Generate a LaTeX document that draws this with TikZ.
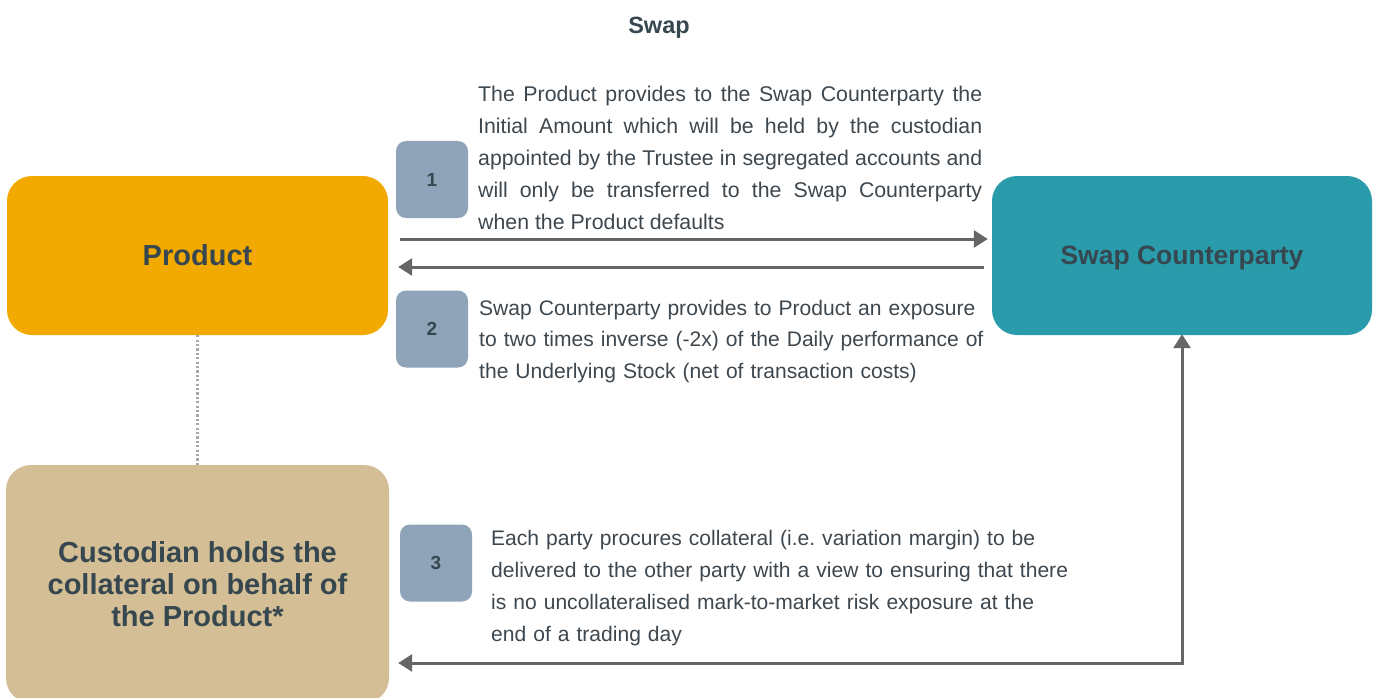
\documentclass[tikz,border=0pt]{standalone}
\usepackage{fontspec}
\setmainfont{Liberation Sans}
\usetikzlibrary{arrows.meta}
\definecolor{prodc}{HTML}{F2AA00}
\definecolor{swapc}{HTML}{2A9BAA}
\definecolor{custc}{HTML}{D3BE95}
\definecolor{badgec}{HTML}{8FA4B9}
\definecolor{headc}{HTML}{36474F}
\definecolor{bodyc}{HTML}{3E474E}
\definecolor{arrc}{HTML}{666666}
\definecolor{dotc}{HTML}{A8A8A8}
\frenchspacing
\begin{document}
\begin{tikzpicture}[x=1pt,y=-1pt,
 bigbox/.style={rounded corners=25pt, inner sep=0pt, font=\bfseries\fontsize{29}{32}\selectfont, text=headc, align=center},
 badge/.style={fill=badgec, rounded corners=10pt, minimum width=72pt, minimum height=77pt, inner sep=0pt, font=\bfseries\fontsize{19}{22}\selectfont, text=headc},
 desc/.style={inner sep=0pt, anchor=base west, font=\fontsize{21.3}{31.8}\selectfont, text=bodyc},
 arr/.style={draw=arrc, line width=3pt, -{Triangle[length=14pt,width=17pt]}},
 dblarr/.style={draw=arrc, line width=3pt, {Triangle[length=14pt,width=17pt]}-{Triangle[length=14pt,width=17pt]}},
 dots/.style={draw=dotc, line width=2.2pt, dash pattern=on 2.2pt off 2.2pt}
]
\useasboundingbox (0,0) rectangle (1376,698);
\node[font=\bfseries\fontsize{23.5}{26}\selectfont, text=headc, anchor=base, inner sep=0pt] (title) at (659,33.5) {Swap};
\node[bigbox, fill=prodc, minimum width=381pt, minimum height=159pt] (prod) at (197.5,255.5) {Product};
\node[bigbox, fill=swapc, minimum width=380pt, minimum height=159pt, font=\bfseries\fontsize{26.5}{30}\selectfont, text depth=0pt] (swap) at (1182,255.5) {Swap Counterparty};
\node[bigbox, fill=custc, minimum width=383pt, minimum height=238pt] (cust) at (197.5,584) {Custodian holds the\\collateral on behalf of\\the Product*};
\node[badge] (b1) at (432,179.5) {1};
\node[badge] (b2) at (432,329) {2};
\node[badge] (b3) at (436,563) {3};
\node[desc, text width=504pt, align=justify] (t1) at (478,102) {The Product provides to the Swap Counterparty the\linebreak Initial Amount which will be held by the custodian\linebreak appointed by the Trustee in segregated accounts and\linebreak will only be transferred to the Swap Counterparty\linebreak when the Product defaults};
\node[desc, text width=530pt, align=left, font=\fontsize{21.05}{31.8}\selectfont] (t2) at (479,315) {Swap Counterparty provides to Product an exposure\\to two times inverse (-2x) of the Daily performance of\\the Underlying Stock (net of transaction costs)};
\node[desc, text width=600pt, align=left, font=\fontsize{21.05}{32}\selectfont] (t3) at (491,545) {Each party procures collateral (i.e. variation margin) to be\\delivered to the other party with a view to ensuring that there\\is no uncollateralised mark-to-market risk exposure at the\\end of a trading day};
\coordinate (c3) at (1182,663);
\draw[arr] ([shift={(12,-16.5)}]prod.east) -- ([shift={(-4,-16.5)}]swap.west);
\draw[arr] ([shift={(-8,11.5)}]swap.west) -- ([shift={(10,11.5)}]prod.east);
\draw[dblarr] ([xshift=9pt]cust.east |- c3) -- (c3) -- ([yshift=1pt]swap.south);
\draw[dots] (prod.south) -- (cust.north);
\end{tikzpicture}
\end{document}
